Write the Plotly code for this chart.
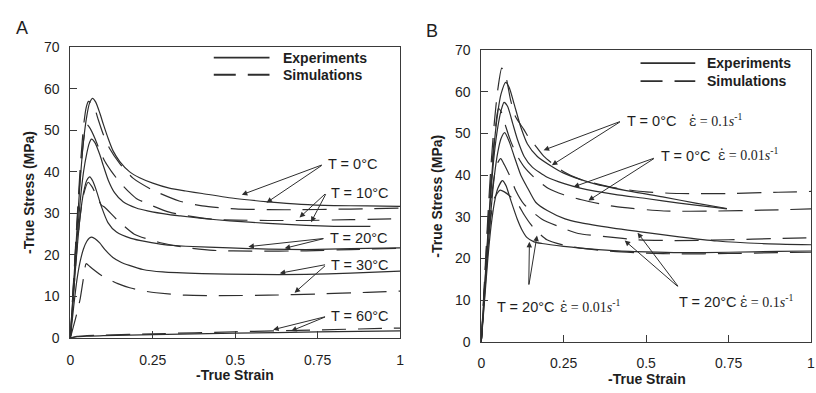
import plotly.graph_objects as go

# ---------------- Panel A data (strain, stress in MPa) ----------------
a_t0_exp_x = [0, 0.01, 0.02, 0.03, 0.04, 0.05, 0.058, 0.067, 0.077, 0.09, 0.1, 0.115, 0.13, 0.15, 0.18, 0.21, 0.25, 0.3, 0.35, 0.4, 0.5, 0.6, 0.7, 0.8, 0.9, 1.0]
a_t0_exp_y = [0, 13, 26, 38, 47.5, 53.5, 56.5, 57.7, 56.8, 54, 51.5, 48, 45, 42.5, 40, 38.6, 37.3, 36.1, 35.4, 34.8, 33.6, 32.8, 32.2, 31.9, 31.8, 31.7]
a_t0_sim_x = [0, 0.01, 0.02, 0.03, 0.04, 0.048, 0.055, 0.065, 0.075, 0.085, 0.1, 0.12, 0.15, 0.19, 0.25, 0.33, 0.4, 0.5, 0.6, 0.7, 0.8, 0.9, 1.0]
a_t0_sim_y = [0, 14, 28, 41, 51, 55.5, 57, 56.5, 55, 52.5, 49, 45.5, 42, 38.5, 35.6, 33, 31.8, 31.1, 30.9, 30.9, 31.0, 31.1, 31.3]
a_t10_exp_x = [0, 0.01, 0.02, 0.03, 0.04, 0.05, 0.057, 0.064, 0.075, 0.09, 0.1, 0.115, 0.134, 0.16, 0.2, 0.234, 0.3, 0.334, 0.4, 0.484, 0.6, 0.715, 0.8, 0.91]
a_t10_exp_y = [0, 12, 23.5, 33, 40, 44.5, 46.8, 47.9, 47, 44, 41.5, 38, 35, 32.8, 31.3, 30.6, 29.7, 29.4, 28.8, 28.2, 27.6, 27.1, 26.9, 26.9]
a_t10_sim_x = [0, 0.01, 0.02, 0.03, 0.04, 0.049, 0.06, 0.075, 0.09, 0.105, 0.124, 0.15, 0.18, 0.2, 0.25, 0.3, 0.35, 0.434, 0.5, 0.6, 0.715, 0.85, 1.0]
a_t10_sim_y = [0, 13.5, 27, 39, 47.5, 51.5, 50.5, 48, 45, 42.5, 40.2, 37.5, 35, 33.6, 31.8, 30.3, 29.5, 28.6, 28.4, 28.3, 28.3, 28.5, 28.7]
a_t20_exp_x = [0, 0.01, 0.02, 0.03, 0.04, 0.05, 0.059, 0.068, 0.079, 0.094, 0.114, 0.14, 0.184, 0.23, 0.284, 0.35, 0.484, 0.6, 0.715, 0.85, 1.0]
a_t20_exp_y = [0, 11, 21, 29.5, 35, 38, 38.8, 37.8, 35.5, 31.7, 27.8, 25.5, 24, 23.2, 22.5, 22.1, 21.7, 21.4, 21.3, 21.5, 21.7]
a_t20_sim_x = [0, 0.01, 0.02, 0.03, 0.04, 0.054, 0.065, 0.08, 0.094, 0.104, 0.144, 0.194, 0.27, 0.35, 0.434, 0.55, 0.715, 0.85, 1.0]
a_t20_sim_y = [0, 11, 21.5, 29.5, 34.5, 37.5, 36.5, 34.2, 32, 31.5, 28.3, 25, 23, 21.8, 21.1, 20.9, 21.0, 21.3, 21.6]
a_t30_exp_x = [0, 0.01, 0.02, 0.03, 0.04, 0.05, 0.058, 0.065, 0.075, 0.089, 0.105, 0.129, 0.155, 0.179, 0.22, 0.28, 0.4, 0.55, 0.715, 0.85, 1.0]
a_t30_exp_y = [0, 7.5, 14, 18.5, 21.5, 23.3, 24.1, 24.3, 23.9, 22.9, 21.3, 19.4, 18.2, 17.5, 16.5, 15.9, 15.5, 15.3, 15.3, 15.6, 16.1]
a_t30_sim_x = [0, 0.01, 0.02, 0.03, 0.04, 0.048, 0.059, 0.075, 0.09, 0.114, 0.144, 0.18, 0.224, 0.26, 0.35, 0.45, 0.6, 0.75, 0.9, 1.0]
a_t30_sim_y = [0, 3, 6, 9.5, 14.5, 17.9, 17.2, 16.2, 15.3, 14.2, 13.1, 12.1, 11.3, 10.9, 10.3, 10.2, 10.3, 10.6, 11.0, 11.3]
a_t60_exp_x = [0, 0.02, 0.05, 0.1, 0.25, 0.5, 0.75, 1.0]
a_t60_exp_y = [0, 0.3, 0.45, 0.55, 0.8, 1.15, 1.45, 1.7]
a_t60_sim_x = [0, 0.02, 0.05, 0.1, 0.25, 0.5, 0.75, 1.0]
a_t60_sim_y = [0, 0.4, 0.55, 0.7, 1.0, 1.5, 1.95, 2.4]

# ---------------- Panel B data ----------------
b_t0f_exp_x = [0, 0.01, 0.02, 0.03, 0.04, 0.05, 0.06, 0.074, 0.085, 0.1, 0.12, 0.14, 0.17, 0.214, 0.25, 0.3, 0.35, 0.454, 0.55, 0.65, 0.745]
b_t0f_exp_y = [0, 13, 26, 38, 48, 55, 59.5, 62.3, 61, 57, 51.5, 47.5, 44.5, 42.1, 40.5, 39, 37.8, 36.1, 34.8, 33.3, 32.0]
b_t0f_sim_x = [0, 0.01, 0.02, 0.03, 0.04, 0.05, 0.062, 0.075, 0.089, 0.104, 0.129, 0.144, 0.16, 0.19, 0.25, 0.3, 0.4, 0.5, 0.6, 0.75, 0.9, 1.0]
b_t0f_sim_y = [0, 15, 30, 43, 53, 60.5, 65.7, 63.5, 58, 54, 51, 49, 47.5, 44.5, 40.8, 39, 37, 36, 35.6, 35.6, 35.9, 36.1]
b_t0s_exp_x = [0, 0.01, 0.02, 0.03, 0.04, 0.05, 0.06, 0.069, 0.08, 0.095, 0.11, 0.13, 0.154, 0.2, 0.254, 0.3, 0.404, 0.5, 0.6, 0.715, 0.745]
b_t0s_exp_y = [0, 12.5, 25, 36.5, 45.5, 51.5, 55.5, 57.5, 56.5, 52.5, 48.5, 44.5, 42, 39.5, 37.9, 36.9, 35.4, 34.4, 33.3, 32.2, 31.9]
b_t0s_sim_x = [0, 0.01, 0.02, 0.03, 0.04, 0.052, 0.062, 0.075, 0.09, 0.11, 0.13, 0.16, 0.204, 0.25, 0.304, 0.404, 0.554, 0.715, 0.85, 1.0]
b_t0s_sim_y = [0, 14, 28, 40, 49, 56, 55, 51.5, 48, 44.5, 42, 39.5, 36.8, 35.3, 34.1, 32.5, 31.4, 31.4, 31.6, 31.9]
b_t20f_exp_x = [0, 0.01, 0.02, 0.03, 0.04, 0.05, 0.06, 0.071, 0.085, 0.1, 0.12, 0.14, 0.165, 0.2, 0.254, 0.3, 0.4, 0.484, 0.6, 0.715, 0.85, 1.0]
b_t20f_exp_y = [0, 11, 22, 32, 40, 45.5, 48.8, 50.2, 48, 44.5, 40, 37, 33.5, 31.5, 29.5, 28.6, 27.3, 26.4, 25.2, 24.2, 23.6, 23.3]
b_t20f_sim_x = [0, 0.01, 0.02, 0.03, 0.04, 0.05, 0.059, 0.07, 0.089, 0.104, 0.13, 0.183, 0.25, 0.294, 0.384, 0.474, 0.585, 0.75, 0.9, 1.0]
b_t20f_sim_y = [0, 13, 25, 34, 40, 43, 44, 42.5, 39.4, 36.4, 33, 29.5, 27.2, 26, 25.2, 24.5, 24.3, 24.5, 24.8, 25.0]
b_t20s_exp_x = [0, 0.01, 0.02, 0.03, 0.04, 0.05, 0.064, 0.075, 0.089, 0.109, 0.124, 0.139, 0.16, 0.184, 0.25, 0.3, 0.4, 0.5, 0.6, 0.75, 0.9, 1.0]
b_t20s_exp_y = [0, 10, 20, 28, 33.5, 36.8, 38.7, 37.5, 34.1, 29.5, 26.8, 25.0, 24.0, 23.6, 22.9, 22.5, 21.9, 21.6, 21.4, 21.5, 21.7, 21.8]
b_t20s_sim_x = [0, 0.01, 0.02, 0.03, 0.04, 0.057, 0.07, 0.09, 0.109, 0.13, 0.149, 0.169, 0.199, 0.25, 0.3, 0.4, 0.5, 0.6, 0.75, 0.9, 1.0]
b_t20s_sim_y = [0, 12, 23, 30.5, 34.5, 36.4, 36, 34.8, 33.3, 30.5, 28.3, 26.5, 24.5, 23.2, 22.5, 21.7, 21.3, 21.1, 21.2, 21.4, 21.5]

x_ticks = [0, 0.25, 0.5, 0.75, 1]
x_tick_text = ["0", "0.25", "0.5", "0.75", "1"]
y_ticks = [0, 10, 20, 30, 40, 50, 60, 70]

LINE = "#2e2e2e"
TXT = "#1e1e1e"
DASH = "24px,12px"
SANS = "Liberation Sans, Arial, sans-serif"
SERIF = "Liberation Serif, Times New Roman, serif"

fig = go.Figure()

def add(x, y, dashed, xa, ya):
    fig.add_trace(go.Scatter(
        x=x, y=y, mode="lines", xaxis=xa, yaxis=ya, showlegend=False,
        line=dict(color=LINE, width=1.2, shape="spline", smoothing=0.6,
                  dash=DASH if dashed else "solid"),
        hoverinfo="skip"))

for (x, y, d) in [
    (a_t0_exp_x, a_t0_exp_y, False), (a_t0_sim_x, a_t0_sim_y, True),
    (a_t10_exp_x, a_t10_exp_y, False), (a_t10_sim_x, a_t10_sim_y, True),
    (a_t20_exp_x, a_t20_exp_y, False), (a_t20_sim_x, a_t20_sim_y, True),
    (a_t30_exp_x, a_t30_exp_y, False), (a_t30_sim_x, a_t30_sim_y, True),
    (a_t60_exp_x, a_t60_exp_y, False), (a_t60_sim_x, a_t60_sim_y, True)]:
    add(x, y, d, "x", "y")

for (x, y, d) in [
    (b_t0f_exp_x, b_t0f_exp_y, False), (b_t0f_sim_x, b_t0f_sim_y, True),
    (b_t0s_exp_x, b_t0s_exp_y, False), (b_t0s_sim_x, b_t0s_sim_y, True),
    (b_t20f_exp_x, b_t20f_exp_y, False), (b_t20f_sim_x, b_t20f_sim_y, True),
    (b_t20s_exp_x, b_t20s_exp_y, False), (b_t20s_sim_x, b_t20s_sim_y, True)]:
    add(x, y, d, "x2", "y2")

W, H = 816, 393

def axis_common():
    return dict(showline=True, mirror=True, linecolor="#3a3a3a", linewidth=1,
                ticks="inside", ticklen=7, tickcolor="#3a3a3a", tickwidth=1,
                showgrid=False, zeroline=False, fixedrange=True,
                tickfont=dict(family=SANS, size=14, color=TXT))

fig.update_layout(
    width=W, height=H, margin=dict(l=0, r=0, t=0, b=0),
    paper_bgcolor="white", plot_bgcolor="white",
    xaxis=dict(domain=[67 / W, 400 / W], range=[0, 1], tickvals=x_ticks, ticktext=x_tick_text,
               anchor="y", ticklabelstandoff=9, **axis_common()),
    yaxis=dict(domain=[(H - 344) / H, (H - 41) / H], range=[0, 70], tickvals=y_ticks,
               anchor="x", ticklabelstandoff=7, **axis_common()),
    xaxis2=dict(domain=[482 / W, 815 / W], range=[0, 1], tickvals=x_ticks, ticktext=x_tick_text,
                anchor="y2", ticklabelstandoff=8, **axis_common()),
    yaxis2=dict(domain=[(H - 348) / H, (H - 44) / H], range=[0, 70], tickvals=y_ticks,
                anchor="x2", ticklabelstandoff=7, **axis_common()),
)

ann = []
def text(x, y, s, xref="paper", yref="paper", size=14, bold=False, family=SANS,
         xanchor="center", angle=0):
    ann.append(dict(x=x, y=y, xref=xref, yref=yref, text=("<b>%s</b>" % s) if bold else s,
                    showarrow=False, xanchor=xanchor, yanchor="middle", textangle=angle,
                    font=dict(family=family, size=size, color=TXT)))

def arrow(x0, y0, x1, y1, xr, yr):
    ann.append(dict(x=x1, y=y1, ax=x0, ay=y0, xref=xr, yref=yr, axref=xr, ayref=yr,
                    text="", showarrow=True, arrowhead=2, arrowsize=1.1, arrowwidth=1,
                    arrowcolor=LINE, standoff=0, startstandoff=0))

# Panel letters and axis titles
text(18 / W, (H - 21) / H, "A", size=18)
text(432 / W, (H - 24) / H, "B", size=18)
text(25 / W, (H - 192) / H, "-True Stress (MPa)", bold=True, angle=-90)
text(437 / W, (H - 196) / H, "-True Stress (MPa)", bold=True, angle=-90)
text(233.5 / W, (H - 383) / H, "-True Strain", bold=True)
text(649 / W, (H - 387) / H, "-True Strain", bold=True)

# Legends (key lines + text)
shapes = []
for (xr, yr, x0, x1, ys, yd, xt) in [("x", "y", 0.435, 0.604, 67.5, 63.4, 0.64),
                                     ("x2", "y2", 0.483, 0.649, 66.9, 62.6, 0.678)]:
    shapes.append(dict(type="line", xref=xr, yref=yr, x0=x0, x1=x1, y0=ys, y1=ys,
                       line=dict(color=LINE, width=1.8)))
    shapes.append(dict(type="line", xref=xr, yref=yr, x0=x0, x1=x1, y0=yd, y1=yd,
                       line=dict(color=LINE, width=1.8, dash="22px,12px")))
    text(xt, ys, "Experiments", xref=xr, yref=yr, bold=True, xanchor="left")
    text(xt, yd, "Simulations", xref=xr, yref=yr, bold=True, xanchor="left")

# Panel A labels and arrows
a_labels = [
    ("T = 0°C", 0.775, 41.8, [(0.52, 34.5), (0.595, 32.6)]),
    ("T = 10°C", 0.785, 35.0, [(0.695, 29.0), (0.73, 27.9)]),
    ("T = 20°C", 0.78, 24.0, [(0.54, 22.0), (0.65, 21.6)]),
    ("T = 30°C", 0.785, 17.7, [(0.635, 15.6), (0.68, 10.9)]),
    ("T = 60°C", 0.785, 5.2, [(0.615, 2.0), (0.67, 1.7)]),
]
for s, lx, ly, tips in a_labels:
    text(lx, ly, s, xref="x", yref="y", size=14.5, xanchor="left")
    for tx, ty in tips:
        arrow(lx - 0.008, ly, tx, ty, "x", "y")

# Panel B labels and arrows
EPS_DOT = '<span style="font-family:DejaVu Serif">\u03b5\u0307</span>'
b_labels = [
    ("T = 0°C", "0.1", 0.435, 52.9, 0.625, (0.425, 53.0), [(0.189, 46.0), (0.214, 42.4)]),
    ("T = 0°C", "0.01", 0.538, 44.7, 0.713, (0.528, 44.2), [(0.28, 37.2), (0.325, 33.9)]),
    ("T = 20°C", "0.01", 0.042, 8.4, 0.232, (0.144, 13.4), [(0.146, 24.0), (0.169, 25.5)]),
    ("T = 20°C", "0.1", 0.594, 9.5, 0.778, (0.6, 13.0), [(0.435, 24.3), (0.474, 26.2)]),
]
for s, rate, lx, ly, ex, start, tips in b_labels:
    text(lx, ly, s, xref="x2", yref="y2", size=14.5, xanchor="left")
    text(ex, ly + 0.3, "%s = %s<i>s</i><sup>-1</sup>" % (EPS_DOT, rate), xref="x2", yref="y2",
         size=14, family=SERIF, xanchor="left")
    for tx, ty in tips:
        arrow(start[0], start[1], tx, ty, "x2", "y2")

fig.update_layout(annotations=ann, shapes=shapes)
fig.write_html("out.html")
